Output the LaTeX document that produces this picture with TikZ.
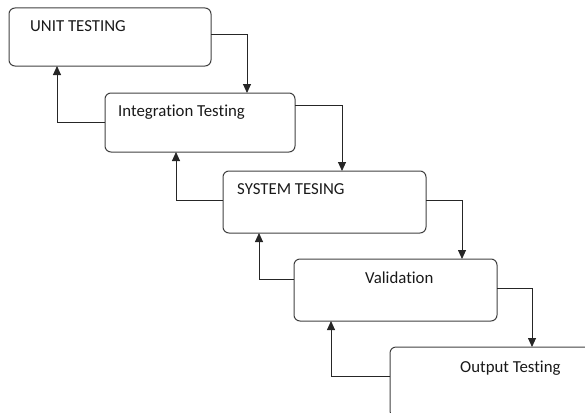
\documentclass[tikz,border=0pt]{standalone}
\usepackage{fontspec}
\setmainfont{Carlito}[Ligatures=CommonOff]
\usetikzlibrary{arrows.meta}
\tikzset{
    stage/.style={draw=black!75,line width=1pt,rounded corners=6pt,inner sep=0pt,outer sep=0pt},
    stagetext/.style={anchor=base west,inner sep=0pt,font=\fontsize{16.8}{19}\selectfont,text=black!90},
    flow/.style={draw=black!85,line width=0.9pt,-{Triangle[length=9pt,width=8pt]}}
}
\begin{document}
\begin{tikzpicture}[x=1pt,y=-1pt]
    \useasboundingbox (0,0) rectangle (585,412);
    \clip (0,0) rectangle (585,412);

    % stages
    \node[stage,minimum width=202pt,minimum height=58pt] (s1) at (110,37) {};
    \node[stage,minimum width=190pt,minimum height=59pt] (s2) at (200,122.5) {};
    \node[stage,minimum width=203pt,minimum height=62pt] (s3) at (324.5,202) {};
    \node[stage,minimum width=203pt,minimum height=62pt] (s4) at (395.5,290) {};
    \node[stage,minimum width=210pt,minimum height=70pt] (s5) at (495,382) {};

    \node[stagetext] (t1) at (30,31.5) {UNIT TESTING};
    \node[stagetext] (t2) at (118,116.5) {Integration Testing};
    \node[stagetext] (t3) at (237,194.5) {SYSTEM TESING};
    \node[stagetext] (t4) at (365,283.5) {Validation};
    \node[stagetext] (t5) at (460,372.5) {Output Testing};

    % down the steps
    \draw[flow] ([yshift=3pt]s1.east) -| ([xshift=47pt]s2.north);
    \draw[flow] ([yshift=17pt]s2.east) -| ([xshift=17.5pt]s3.north);
    \draw[flow] ([yshift=2pt]s3.east) -| ([xshift=66.5pt]s4.north);
    \draw[flow] ([yshift=2pt]s4.east) -| ([xshift=37pt]s5.north);

    % back up
    \draw[flow] (s2.west) -| ([xshift=-53pt]s1.south);
    \draw[flow] ([yshift=2pt]s3.west) -| ([xshift=-24pt]s2.south);
    \draw[flow] ([yshift=11pt]s4.west) -| ([xshift=-65.5pt]s3.south);
    \draw[flow] ([yshift=6pt]s5.west) -| ([xshift=-64.5pt]s4.south);
\end{tikzpicture}
\end{document}
